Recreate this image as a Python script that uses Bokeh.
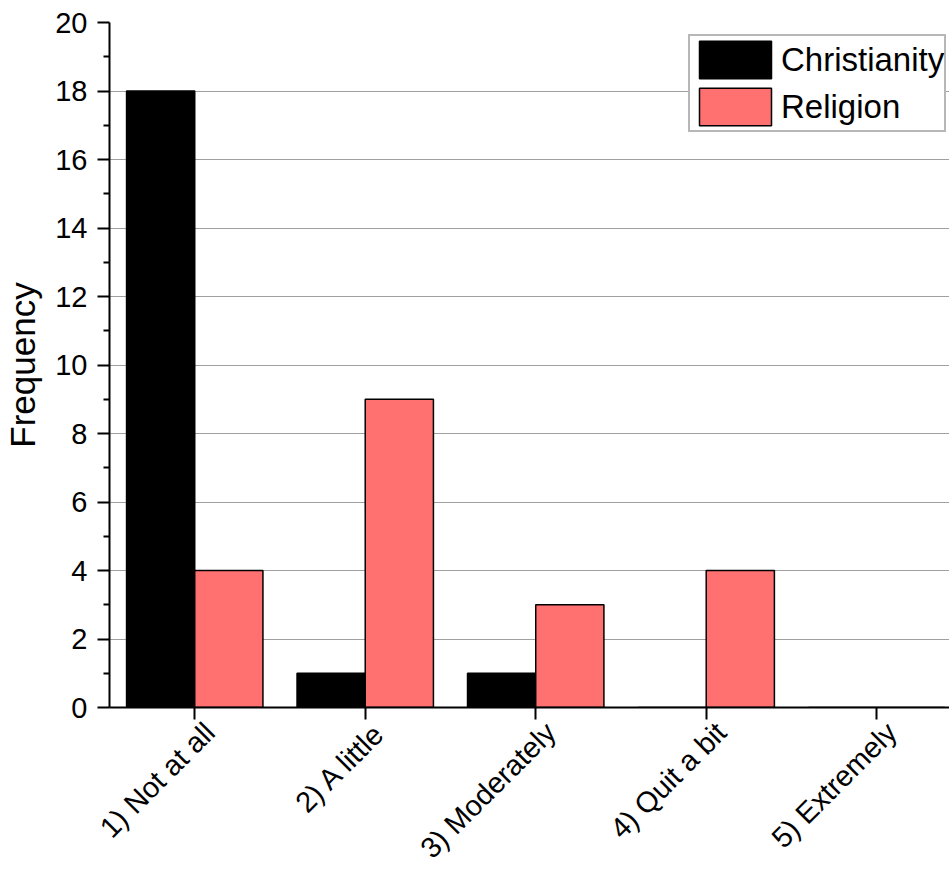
import math

from bokeh.embed import file_html
from bokeh.models import ColumnDataSource, FixedTicker, LinearAxis, Range1d
from bokeh.plotting import figure
from bokeh.resources import INLINE
from bokeh.transform import dodge

# Survey responses per answer category
categories = ["1) Not at all", "2) A little", "3) Moderately", "4) Quit a bit", "5) Extremely"]
positions = [1, 2, 3, 4, 5]
christianity = [18, 1, 1, 0, 0]
religion = [4, 9, 3, 4, 0]
y_ticks = [0, 2, 4, 6, 8, 10, 12, 14, 16, 18, 20]

FONT = "Liberation Sans"
X_START, X_END = 0.5, 5.427
LABEL_SHIFT = 0.088  # nudges the slanted category names to the right of their ticks

source = ColumnDataSource(dict(pos=positions, christianity=christianity, religion=religion))

p = figure(
    width=949,
    height=878,
    output_backend="svg",
    toolbar_location=None,
    x_range=Range1d(X_START, X_END),
    y_range=Range1d(0, 20),
    min_border_left=109,
    min_border_right=0,
    min_border_top=22,
    min_border_bottom=170,
)
p.outline_line_color = None

p.vbar(x=dodge("pos", -0.2), top="christianity", width=0.4, source=source,
       fill_color="black", line_color="black", line_width=1.5,
       legend_label="Christianity")
p.vbar(x=dodge("pos", 0.2), top="religion", width=0.4, source=source,
       fill_color="#ff7070", line_color="black", line_width=1.5,
       legend_label="Religion")

# Grid: horizontal lines only, between the axis and the top
p.xgrid.visible = False
p.ygrid.ticker = FixedTicker(ticks=y_ticks[1:-1])
p.ygrid.grid_line_color = "#a0a0a0"
p.ygrid.grid_line_width = 1

# Y axis
yax = p.yaxis[0]
yax.ticker = FixedTicker(ticks=y_ticks, minor_ticks=list(range(1, 20, 2)))
yax.axis_label = "Frequency"
yax.axis_label_text_font = FONT
yax.axis_label_text_font_size = "35px"
yax.axis_label_text_font_style = "normal"
yax.axis_label_text_color = "black"
yax.axis_label_standoff = 10
yax.major_label_standoff = 10
yax.major_label_text_font = FONT
yax.major_label_text_font_size = "29px"
yax.major_label_text_color = "black"
yax.axis_line_width = 2
yax.axis_line_color = "black"
yax.major_tick_line_width = 2
yax.major_tick_line_color = "black"
yax.major_tick_out = 12
yax.major_tick_in = 0
yax.minor_tick_line_width = 2
yax.minor_tick_line_color = "black"
yax.minor_tick_out = 6
yax.minor_tick_in = 0

# X axis: line plus one unlabeled tick under each category
xax = p.xaxis[0]
xax.ticker = FixedTicker(ticks=[], minor_ticks=positions)
xax.axis_line_width = 2
xax.axis_line_color = "black"
xax.minor_tick_line_width = 2
xax.minor_tick_line_color = "black"
xax.minor_tick_out = 12
xax.minor_tick_in = 0
xax.major_label_standoff = 0

# Slanted category names on a second, slightly offset axis below the first
p.extra_x_ranges = {"names": Range1d(X_START - LABEL_SHIFT, X_END - LABEL_SHIFT)}
name_axis = LinearAxis(
    x_range_name="names",
    ticker=FixedTicker(ticks=positions),
    major_label_overrides={pos: name for pos, name in zip(positions, categories)},
    major_label_orientation=math.pi / 4,
    major_label_text_font=FONT,
    major_label_text_font_size="29px",
    major_label_text_color="black",
    major_label_standoff=8,
    axis_line_color=None,
    major_tick_line_color=None,
    minor_tick_line_color=None,
    major_tick_out=0,
    major_tick_in=0,
)
p.add_layout(name_axis, "below")

# Legend in the upper right corner
lg = p.legend[0]
lg.location = (579, 575)
lg.label_text_font = FONT
lg.label_text_font_size = "33px"
lg.label_text_color = "black"
lg.glyph_width = 90
lg.glyph_height = 47
lg.label_height = 47
lg.spacing = 0
lg.padding = 0
lg.margin = 0
lg.label_standoff = 1
lg.border_line_color = "#707070"
lg.border_line_width = 2
lg.background_fill_alpha = 1.0

open("out.html", "w").write(file_html(p, INLINE))
